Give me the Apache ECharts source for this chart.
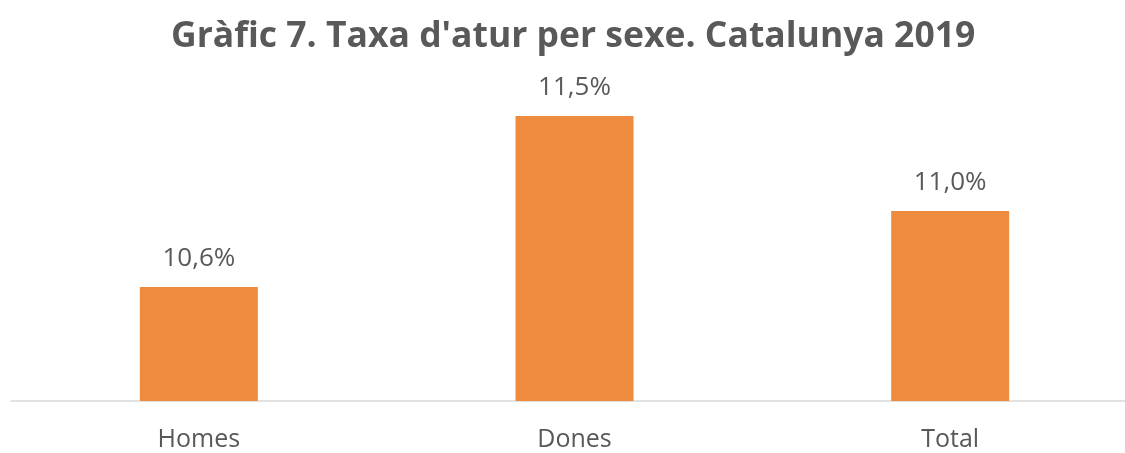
<!DOCTYPE html>
<html><head><meta charset="utf-8">
<script src="https://cdn.jsdelivr.net/npm/echarts@6/dist/echarts.min.js"></script>
<style>html,body{margin:0;padding:0;background:#fff}#c{width:1125px;height:453px}</style>
</head><body><div id="c"></div>
<script>
const categories = ['Homes', 'Dones', 'Total'];
const values = [10.6, 11.5, 11.0];
const titleText = "Gràfic 7. Taxa d'atur per sexe. Catalunya 2019";

const chart = echarts.init(document.getElementById('c'));
chart.setOption({
  animation: false,
  title: {
    text: titleText, left: 166, top: 14,
    textStyle: { fontFamily: 'Open Sans', fontWeight: 'bold', fontSize: 35.5, color: '#595959' }
  },
  grid: { left: 11, right: -13, top: 21, bottom: 52, outerBoundsMode: 'none' },
  xAxis: {
    type: 'category', data: categories,
    axisLine: { lineStyle: { color: '#d9d9d9', width: 1.5 } },
    axisTick: { show: false },
    axisLabel: { color: '#595959', fontFamily: 'Open Sans', fontSize: 25, margin: 26 }
  },
  yAxis: { type: 'value', min: 10, max: 12, show: false, splitLine: { show: false } },
  series: [{
    type: 'bar', data: values, barWidth: 118,
    itemStyle: { color: '#EF8B3F' },
    label: {
      show: true, position: 'top', distance: 15,
      color: '#595959', fontFamily: 'Open Sans', fontSize: 26,
      formatter: p => p.value.toFixed(1).replace('.', ',') + '%'
    }
  }]
});
</script></body></html>
